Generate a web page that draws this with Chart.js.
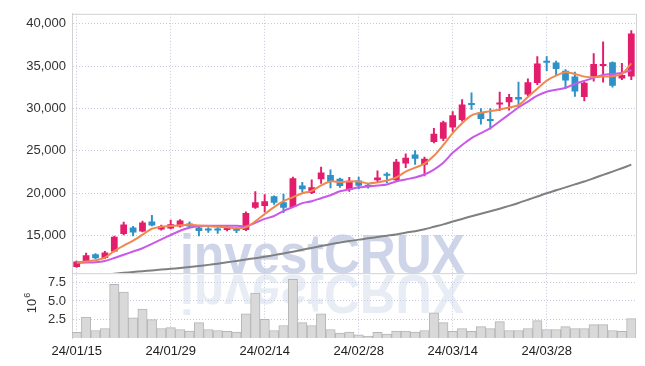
<!DOCTYPE html>
<html>
<head>
<meta charset="utf-8">
<script src="https://cdn.jsdelivr.net/npm/chart.js@4/dist/chart.umd.min.js"></script>
<style>
html, body { margin: 0; padding: 0; background: #fff; }
#wrap { width: 645px; height: 366px; }
</style>
</head>
<body>
<div id="wrap"><canvas id="chart"></canvas></div>
<script>
const dates = ['24/01/15','24/01/16','24/01/17','24/01/18','24/01/19','24/01/22','24/01/23','24/01/24','24/01/25','24/01/26',
    '24/01/29','24/01/30','24/01/31','24/02/01','24/02/02','24/02/05','24/02/06','24/02/07','24/02/08','24/02/13',
    '24/02/14','24/02/15','24/02/16','24/02/19','24/02/20','24/02/21','24/02/22','24/02/23','24/02/26','24/02/27',
    '24/02/28','24/02/29','24/03/04','24/03/05','24/03/06','24/03/07','24/03/08','24/03/11','24/03/12','24/03/13',
    '24/03/14','24/03/15','24/03/18','24/03/19','24/03/20','24/03/21','24/03/22','24/03/25','24/03/26','24/03/27',
    '24/03/28','24/03/29','24/04/01','24/04/02','24/04/03','24/04/04','24/04/05','24/04/08','24/04/09','24/04/11'];
const tickDates = ['24/01/15','24/01/29','24/02/14','24/02/28','24/03/14','24/03/28'];

const opens = [11300,11900,12800,12360,13140,15200,15960,15500,16660,15730,
    15850,16080,16430,15960,15650,15650,15660,15850,15660,18300,
    18490,19650,18950,18370,20930,20040,21660,22170,21710,20380,
    21510,21010,21550,22100,21550,23520,24570,23370,26050,26430,
    27760,28640,30500,29500,28600,30460,30730,31360,31660,32990,
    35500,35430,34460,33760,31360,33760,35000,35460,33520,33760];
const highs = [12000,12950,12900,13150,14950,16590,16100,16710,17400,16250,
    16830,16900,16630,16050,15950,15960,16100,15950,17800,20200,
    19850,19700,19920,21900,21280,21590,23100,22760,21800,21870,
    21900,21100,22640,22440,23990,24650,25030,24270,27670,28500,
    29620,31050,31830,30000,30000,31940,31670,33100,33490,36130,
    36130,35600,34600,34300,33140,36470,37870,35500,35310,39190];
const lows = [11250,11850,12300,12300,13100,15100,14970,15450,16150,15650,
    15800,16000,16000,14970,15380,15260,15550,15350,15600,18200,
    17790,18680,17710,18300,20120,19950,21160,20620,20700,20230,
    20510,20600,21280,21240,21450,23020,23400,22060,25950,26200,
    27300,28500,29880,28140,27560,29730,29800,30200,31500,32800,
    34460,33880,32330,31430,30890,33210,33100,32500,33400,33400];
const closes = [11950,12680,12350,13020,14880,16310,15380,16550,16200,16130,
    16360,16780,16080,15540,15600,15600,15970,15580,17680,18950,
    19070,18870,18290,21780,20470,20700,22440,21360,20850,21470,
    20900,20700,21860,22060,23720,24190,24070,24070,27010,28370,
    29190,30460,30420,28760,28530,30700,31360,31050,33100,35300,
    35400,34650,33300,32010,33020,35230,35230,32670,33950,38840];

// moving averages
const ma5 = [11860,11942,12093,12407,13198,13837,14419,15116,15814,16047,
    16128,16221,16279,16198,16128,16047,15988,15872,15988,16686,
    17558,18372,19070,19535,20000,20291,20930,21395,21337,21395,
    21395,21163,21279,21512,21861,22558,23023,23488,24419,25698,
    27093,28256,29186,29500,29686,29884,30116,30384,31360,32326,
    33291,33872,34268,34070,33756,33686,33756,33802,34070,35314];
const ma20 = [11779,11826,11860,12012,12360,12756,13140,13523,14035,14570,
    15081,15581,15930,16128,16163,16163,16163,16163,16105,16512,
    16977,17326,17907,18372,18837,19070,19419,19767,20233,20465,
    20698,20814,20930,21047,21395,21628,21861,22209,22791,23605,
    24767,25698,26512,27093,27674,28488,29302,30116,30814,31512,
    31977,32209,32442,32907,33256,33605,33953,34070,34186,34535];
const ma120 = [10116,10232,10291,10407,10523,10616,10721,10814,10907,11000,
    11093,11198,11314,11430,11558,11698,11860,12023,12186,12349,
    12523,12709,12907,13116,13337,13558,13779,14000,14186,14360,
    14535,14686,14849,15000,15151,15349,15523,15756,16047,16337,
    16663,16977,17291,17593,17884,18186,18512,18860,19233,19616,
    20000,20349,20698,21047,21395,21779,22175,22558,22954,23372];

// volume in millions
const volumes = [0.75,2.8,1.0,1.27,7.2,6.14,2.7,3.86,2.46,1.27,
    1.4,1.14,0.92,2.06,1.14,1.0,0.88,0.8,3.25,6.0,
    2.5,1.0,1.67,7.85,2.06,1.67,3.25,1.14,0.66,0.8,
    0.44,0.26,0.75,0.53,0.92,0.92,0.8,1.0,3.38,2.06,
    0.88,1.27,0.88,1.53,1.27,2.2,1.0,1.0,1.27,2.33,
    1.14,1.14,1.53,1.27,1.27,1.8,1.8,1.0,0.88,2.59];

const priceTicks = [15000, 20000, 25000, 30000, 35000, 40000];
const volTicks = [2.5, 5.0, 7.5];

const UP = '#e41c6c';
const DOWN = '#2e92c8';
const GRID = '#c6c9dc';
const FONT = '"Liberation Sans", sans-serif';

const candleColor = ctx => closes[ctx.dataIndex] >= opens[ctx.dataIndex] ? UP : DOWN;

// clip each dataset to its own panel
const panelClip = {
    id: 'panelClip',
    beforeDatasetDraw(chart, args) {
        const ys = chart.scales[args.meta.yAxisID];
        const a = chart.chartArea;
        chart.ctx.save();
        chart.ctx.beginPath();
        chart.ctx.rect(a.left, ys.top, a.right - a.left, ys.bottom - ys.top);
        chart.ctx.clip();
    },
    afterDatasetDraw(chart) {
        chart.ctx.restore();
    }
};

// watermark and panel frame
const decor = {
    id: 'decor',
    beforeDatasetsDraw(chart) {
        const ctx = chart.ctx;
        const text = 'investCRUX';
        const yp = chart.scales.y;
        ctx.save();
        ctx.font = 'bold 56px "Liberation Sans", sans-serif';
        const sx = 285 / ctx.measureText(text).width;
        ctx.textAlign = 'left';
        ctx.textBaseline = 'alphabetic';
        ctx.fillStyle = 'rgba(190,199,226,0.75)';
        ctx.setTransform(sx, 0, 0, 1, 180, yp.bottom);
        ctx.fillText(text, 0, 0);
        ctx.fillStyle = 'rgba(205,212,232,0.45)';
        ctx.setTransform(sx, 0, 0, -1, 180, yp.bottom + 2);
        ctx.fillText(text, 0, 0);
        ctx.restore();
    },
    afterDraw(chart) {
        const ctx = chart.ctx;
        const a = chart.chartArea;
        const yp = chart.scales.y;
        ctx.save();
        ctx.strokeStyle = '#d2d2d2';
        ctx.lineWidth = 1;
        ctx.beginPath();
        ctx.moveTo(a.left, yp.top + 0.5);
        ctx.lineTo(a.right + 0.5, yp.top + 0.5);
        ctx.lineTo(a.right + 0.5, yp.bottom + 0.5);
        ctx.lineTo(a.left, yp.bottom + 0.5);
        ctx.stroke();
        ctx.restore();
    }
};

// volume tick labels and the 10^6 unit, painted last
const volLabels = {
    id: 'volLabels',
    afterRender(chart) {
        const ctx = chart.ctx;
        const yv = chart.scales.yv;
        ctx.save();
        ctx.setTransform(1, 0, 0, 1, 0, 0);
        ctx.fillStyle = '#333';
        ctx.font = '13px ' + FONT;
        ctx.textAlign = 'right';
        ctx.textBaseline = 'middle';
        for (const v of volTicks) {
            ctx.fillText(v.toFixed(1), 66, Math.round(yv.getPixelForValue(v)));
        }
        ctx.restore();

        ctx.save();
        ctx.setTransform(1, 0, 0, 1, 0, 0);
        ctx.fillStyle = '#333';
        ctx.translate(36, yv.top + 40);
        ctx.rotate(-Math.PI / 2);
        ctx.font = '13px ' + FONT;
        ctx.textAlign = 'left';
        ctx.textBaseline = 'alphabetic';
        ctx.fillText('10', 0, 0);
        const w = ctx.measureText('10').width;
        ctx.font = '9px ' + FONT;
        ctx.fillText('6', w + 1, -6);
        ctx.restore();
    }
};

const fixWidth = scale => { scale.width = 72; };

new Chart(document.getElementById('chart'), {
    data: {
        labels: dates,
        datasets: [
            { type: 'line', label: 'MA5', data: ma5, yAxisID: 'y', borderColor: '#f0884e', borderWidth: 2, pointRadius: 0, tension: 0.3, order: 0 },
            { type: 'line', label: 'MA20', data: ma20, yAxisID: 'y', borderColor: '#c95ae9', borderWidth: 2, pointRadius: 0, tension: 0.3, order: 0 },
            { type: 'line', label: 'MA120', data: ma120, yAxisID: 'y', borderColor: '#808080', borderWidth: 2, pointRadius: 0, tension: 0.3, order: 0 },
            {
                type: 'bar', label: 'body', yAxisID: 'y', order: 1, grouped: false,
                data: opens.map((o, i) => [o, closes[i]]),
                backgroundColor: candleColor, borderWidth: 0,
                barPercentage: 0.72, categoryPercentage: 1, minBarLength: 2
            },
            {
                type: 'bar', label: 'wick', yAxisID: 'y', order: 2, grouped: false,
                data: lows.map((l, i) => [l, highs[i]]),
                backgroundColor: candleColor, borderWidth: 0,
                barThickness: 1.3
            },
            {
                type: 'bar', label: 'volume', yAxisID: 'yv', order: 3, grouped: false,
                data: volumes,
                backgroundColor: '#d9d9d9', borderColor: '#b5b5b5', borderWidth: 1,
                barPercentage: 1, categoryPercentage: 1
            }
        ]
    },
    options: {
        responsive: true,
        maintainAspectRatio: false,
        animation: false,
        layout: { padding: { left: 0, right: 9, top: 9, bottom: 0 } },
        plugins: { legend: { display: false }, tooltip: { enabled: false } },
        scales: {
            x: {
                type: 'category',
                offset: true,
                grid: { offset: false, color: GRID, drawTicks: false },
                border: { display: false, dash: [1, 2] },
                afterBuildTicks: scale => {
                    scale.ticks = scale.ticks.filter(t => tickDates.includes(dates[t.value]));
                },
                afterFit: scale => { scale.height = 28; },
                ticks: {
                    autoSkip: false, maxRotation: 0, padding: 6,
                    color: '#222', font: { family: FONT, size: 13 }
                }
            },
            yv: {
                type: 'linear', position: 'left', stack: 'price', stackWeight: 1,
                min: 0, max: 8.684,
                grid: { color: GRID, drawTicks: false },
                border: { display: true, color: '#d2d2d2', dash: [1, 2] },
                afterBuildTicks: scale => { scale.ticks = volTicks.map(v => ({ value: v })); },
                afterFit: fixWidth,
                ticks: { display: false }
            },
            y: {
                type: 'linear', position: 'left', stack: 'price', stackWeight: 4,
                min: 10581, max: 41163,
                grid: { color: GRID, drawTicks: false },
                border: { display: true, color: '#d2d2d2', dash: [1, 2] },
                afterBuildTicks: scale => { scale.ticks = priceTicks.map(v => ({ value: v })); },
                afterFit: fixWidth,
                ticks: {
                    padding: 6, color: '#333', font: { family: FONT, size: 13 },
                    callback: v => v.toLocaleString('en-US')
                }
            }
        }
    },
    plugins: [panelClip, decor, volLabels]
});
</script>
</body>
</html>
